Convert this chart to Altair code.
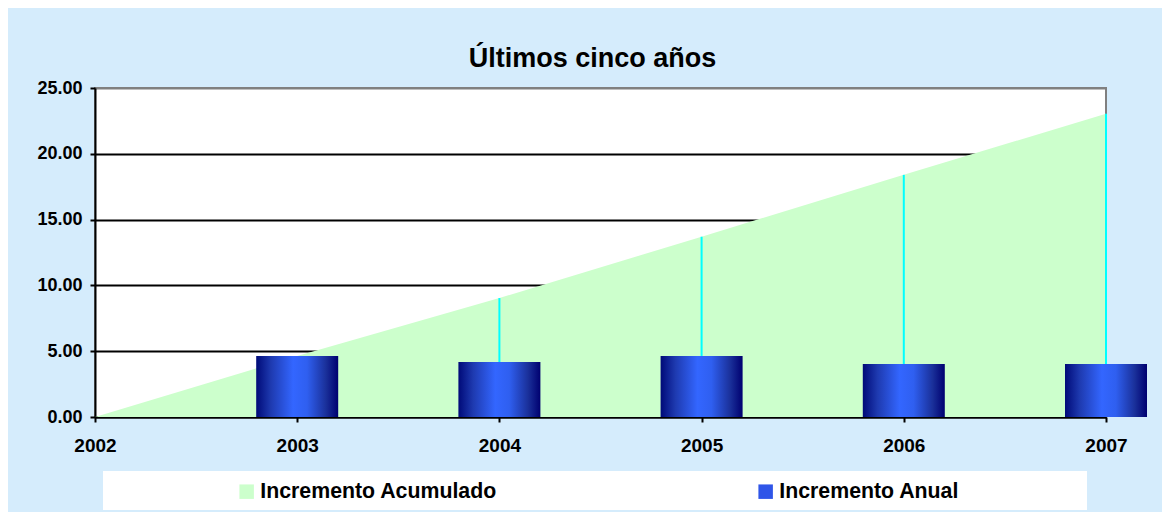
import altair as alt
import pandas as pd

# ---- data ----
years = [2002, 2003, 2004, 2005, 2006, 2007]
acumulado = [0.0, 4.64, 9.04, 13.70, 18.40, 23.05]
anual = [None, 4.64, 4.18, 4.64, 4.03, 4.03]
series = ["Incremento Acumulado", "Incremento Anual"]
title_text = "Últimos cinco años"

df = pd.DataFrame({"year": years, "acumulado": acumulado, "anual": anual})

FONT = "Liberation Sans"
W, H = 1011, 329

x_scale = alt.Scale(domain=[2002, 2007], nice=False, zero=False, padding=0)
y_scale = alt.Scale(domain=[0, 25], nice=False)

x_axis = alt.Axis(
    values=years, format="d", title=None, grid=False,
    labelFlush=False, labelOverlap=False,
    labelFont=FONT, labelFontSize=19, labelFontWeight="bold", labelColor="black",
    labelPadding=14, tickColor="black", tickSize=5, tickWidth=2,
    domainColor="black", domainWidth=2,
)
y_axis = alt.Axis(
    values=[0, 5, 10, 15, 20, 25], format=".2f", title=None,
    labelFont=FONT, labelFontSize=18, labelFontWeight="bold", labelColor="black",
    labelPadding=8, tickColor="black", tickSize=5, tickWidth=2,
    domainColor="black", domainWidth=2,
    grid=True, gridWidth=2,
    gridColor={"condition": {"test": "datum.value === 25", "value": "#808080"}, "value": "black"},
)

base = alt.Chart(df)

area = base.mark_area(opacity=1).transform_calculate(
    serie="'Incremento Acumulado'"
).encode(
    x=alt.X("year:Q", scale=x_scale, axis=x_axis),
    y=alt.Y("acumulado:Q", scale=y_scale, axis=y_axis),
    color=alt.Color(
        "serie:N",
        scale=alt.Scale(domain=series, range=["#CCFFCC", "#2F55E8"]),
        legend=alt.Legend(
            title=None, orient="none", legendX=141, legendY=393,
            direction="horizontal", symbolType="square", symbolSize=210,
            symbolStrokeWidth=0, labelFont=FONT, labelFontSize=21.3,
            labelFontWeight="bold", labelColor="black", labelOffset=3,
            labelLimit=500, columnPadding=258, padding=0,
        ),
    ),
)

rules = base.transform_filter("datum.anual != null").mark_rule(
    color="#00FFFF", strokeWidth=2
).encode(
    x=alt.X("year:Q", scale=x_scale),
    y=alt.Y("anual:Q", scale=y_scale),
    y2="acumulado:Q",
)

gradient = alt.Gradient(
    gradient="linear", x1=0, x2=1, y1=0, y2=0,
    stops=[
        alt.GradientStop(color="#000A78", offset=0),
        alt.GradientStop(color="#1E3AB0", offset=0.18),
        alt.GradientStop(color="#3366FF", offset=0.45),
        alt.GradientStop(color="#2F5FF0", offset=0.62),
        alt.GradientStop(color="#1A309A", offset=0.85),
        alt.GradientStop(color="#000070", offset=1),
    ],
)
bars = base.transform_filter("datum.anual != null").mark_bar(
    color=gradient, size=82, clip=False
).encode(
    x=alt.X("year:Q", scale=x_scale),
    y=alt.Y("anual:Q", scale=y_scale),
)

legend_box = alt.Chart(pd.DataFrame({"k": [0]})).mark_rect(
    color="white", clip=False
).encode(
    x=alt.value(8), x2=alt.value(992), y=alt.value(383), y2=alt.value(422)
)

chart = alt.layer(legend_box, area, rules, bars).properties(
    width=W, height=H,
    title=alt.TitleParams(
        title_text, font=FONT, fontSize=27, fontWeight="bold", color="black",
        anchor="middle", offset=6, dx=-8,
    ),
    autosize=alt.AutoSizeParams(type="none"),
    padding={"left": 87, "top": 80, "right": 56, "bottom": 95},
    background="#D5ECFC",
).configure_view(
    fill="white", stroke="#808080", strokeWidth=2
)

chart.save("out.html", embed_options={"renderer": "svg", "actions": False})
